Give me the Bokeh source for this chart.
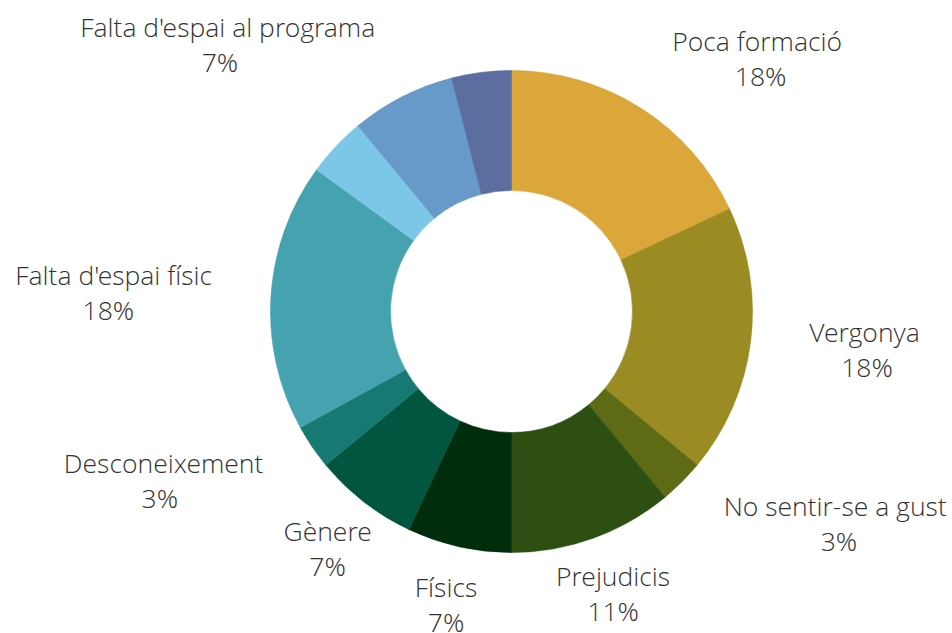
import math
from bokeh.plotting import figure
from bokeh.models import Range1d, ColumnDataSource
from bokeh.core.properties import value
from bokeh.embed import file_html
from bokeh.resources import INLINE

# ---- data ----
categories = ["Poca formació", "Vergonya", "No sentir-se a gust", "Prejudicis",
              "Físics", "Gènere", "Desconeixement", "Falta d'espai físic",
              "", "Falta d'espai al programa", ""]
percent = [18, 18, 3, 11, 7, 7, 3, 18, 4, 7, 4]
colors = ["#DBA63A", "#9A8C22", "#5E6B14", "#2D5012", "#002E0C", "#02553F",
          "#177A72", "#45A2AF", "#7CC7E7", "#679AC8", "#5C6EA0"]

# ---- layout ----
W, H = 952, 633
CX, CY = 511, 322
R_OUT, R_IN = 241, 121
R_LAB = 300
FONT = "Open Sans Light, Open Sans"
FSIZE = 26.5
LINE_GAP = 17.5

# approximate Open Sans advance widths (units per em 2048)
CW = {" ": 532, "%": 1696, "'": 387, "-": 659, "D": 1479, "F": 1094, "G": 1491,
      "N": 1520, "P": 1235, "V": 1186, "a": 1139, "b": 1255, "c": 975, "d": 1255,
      "e": 1149, "è": 1149, "f": 694, "g": 1122, "h": 1257, "i": 518, "í": 518,
      "j": 518, "l": 518, "m": 1905, "n": 1257, "o": 1237, "ó": 1237, "p": 1255,
      "r": 836, "s": 977, "t": 723, "u": 1257, "x": 1073, "y": 1028}


def text_width(s):
    return sum(CW.get(ch, 1171) for ch in s) * FSIZE / 2048.0


total = float(sum(percent))
starts, ends = [], []
cum = 0.0
for v in percent:
    starts.append(math.pi / 2 - 2 * math.pi * cum / total)
    cum += v
    ends.append(math.pi / 2 - 2 * math.pi * cum / total)

src = ColumnDataSource(dict(start=starts, end=ends, color=colors))

p = figure(width=W, height=H, x_range=Range1d(0, W), y_range=Range1d(0, H),
           output_backend="svg", toolbar_location=None, min_border=0,
           x_axis_location=None, y_axis_location=None)
p.grid.visible = False
p.outline_line_color = None
p.background_fill_color = "white"

p.annular_wedge(x=CX, y=CY, inner_radius=R_IN, outer_radius=R_OUT,
                start_angle="start", end_angle="end", direction="clock",
                fill_color="color", line_color="color", line_width=0.6, source=src)

nx, ny, na, px_, py_ = [], [], [], [], []
names, pcts = [], []
cum = 0.0
for name, v in zip(categories, percent):
    mid = (cum + v / 2) / total * 360.0
    cum += v
    if not name:
        continue
    th = math.radians(mid)
    ax = CX + R_LAB * math.sin(th)
    ay = CY + R_LAB * math.cos(th)
    w = text_width(name)
    if abs(mid - 180) < 42:
        align, cxb = "center", ax
    elif mid < 180:
        align, cxb = "left", ax + w / 2
    else:
        align, cxb = "right", ax - w / 2
    names.append(name)
    nx.append(ax)
    ny.append(ay + LINE_GAP)
    na.append(align)
    pcts.append("%d%%" % v)
    px_.append(cxb)
    py_.append(ay - LINE_GAP)

lab = ColumnDataSource(dict(x=nx, y=ny, text=names, align=na))
pl = ColumnDataSource(dict(x=px_, y=py_, text=pcts))

p.text(x="x", y="y", text="text", text_align="align", text_baseline="middle",
       text_font=value(FONT), text_font_size="%spx" % FSIZE, text_color="#333333",
       source=lab)
p.text(x="x", y="y", text="text", text_align="center", text_baseline="middle",
       text_font=value(FONT), text_font_size="%spx" % FSIZE, text_color="#333333",
       source=pl)

open("out.html", "w").write(file_html(p, INLINE))
